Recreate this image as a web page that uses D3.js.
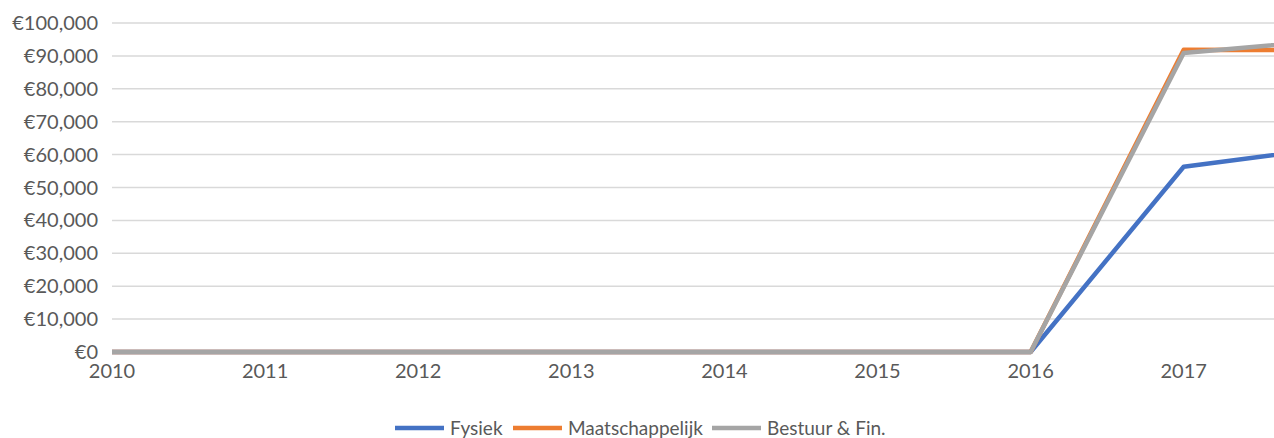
<!DOCTYPE html>
<html>
<head>
<meta charset="utf-8">
<script src="https://d3js.org/d3.v7.min.js"></script>
<style>
  body { margin: 0; background: #fff; }
  svg { font-family: Lato, "Open Sans", sans-serif; display: block; }
</style>
</head>
<body>
<svg></svg>
<script>
// data
var years = [2010, 2011, 2012, 2013, 2014, 2015, 2016, 2017, 2018];
var fysiek = [0, 0, 0, 0, 0, 0, 0, 56300, 62400];
var maatschappelijk = [0, 0, 0, 0, 0, 0, 0, 91900, 91700];
var bestuur = [0, 0, 0, 0, 0, 0, 0, 90900, 95000];
var yTicks = [0, 10000, 20000, 30000, 40000, 50000, 60000, 70000, 80000, 90000, 100000];
var seriesNames = ["Fysiek", "Maatschappelijk", "Bestuur & Fin."];
var seriesColors = ["#4472C4", "#ED7D31", "#A5A5A5"];

var width = 1274, height = 438;

var svg = d3.select("svg")
    .attr("width", width)
    .attr("height", height);

// x runs past the right edge, the chart is cut off there
var x = d3.scaleLinear()
    .domain([2010, 2018])
    .range([112, 112 + 8 * 153.1]);

var y = d3.scaleLinear()
    .domain([0, 100000])
    .range([352, 23]);

var fmt = function(d) { return "€" + d3.format(",")(d); };

// gridlines
svg.append("g")
    .selectAll("line")
    .data(yTicks.filter(function(d) { return d > 0; }))
  .enter().append("line")
    .attr("x1", 112)
    .attr("x2", width)
    .attr("y1", function(d) { return y(d); })
    .attr("y2", function(d) { return y(d); })
    .attr("stroke", "#d9d9d9")
    .attr("stroke-width", 1.5);

// y labels
svg.append("g")
    .selectAll("text")
    .data(yTicks)
  .enter().append("text")
    .attr("x", 98)
    .attr("y", function(d) { return y(d); })
    .attr("dy", "0.35em")
    .attr("text-anchor", "end")
    .attr("font-size", 20)
    .attr("fill", "#595959")
    .text(fmt);

// x labels
svg.append("g")
    .selectAll("text")
    .data(years.slice(0, 8))
  .enter().append("text")
    .attr("x", function(d) { return x(d); })
    .attr("y", 378)
    .attr("text-anchor", "middle")
    .attr("font-size", 20)
    .attr("fill", "#595959")
    .text(function(d) { return d; });

// lines
var allSeries = [fysiek, maatschappelijk, bestuur];
var line = d3.line()
    .x(function(d, i) { return x(years[i]); })
    .y(function(d) { return y(d); });

svg.append("g")
    .selectAll("path")
    .data(allSeries)
  .enter().append("path")
    .attr("d", line)
    .attr("fill", "none")
    .attr("stroke", function(d, i) { return seriesColors[i]; })
    .attr("stroke-width", 4.5)
    .attr("stroke-linejoin", "round");

// legend
var legendX = [395, 513, 712];
var lg = svg.append("g")
    .selectAll("g")
    .data(seriesNames)
  .enter().append("g")
    .attr("transform", function(d, i) { return "translate(" + legendX[i] + ",428)"; });

lg.append("line")
    .attr("x1", 0)
    .attr("x2", 49)
    .attr("stroke", function(d, i) { return seriesColors[i]; })
    .attr("stroke-width", 4.5);

lg.append("text")
    .attr("x", 55)
    .attr("dy", "0.35em")
    .attr("font-size", 19)
    .attr("fill", "#595959")
    .text(function(d) { return d; });
</script>
</body>
</html>
